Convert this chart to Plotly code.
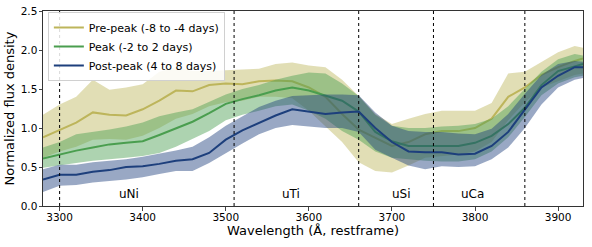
import plotly.graph_objects as go

wavelength = [3280, 3300, 3320, 3340, 3360, 3380, 3400, 3420, 3440, 3460, 3480, 3500,
              3520, 3540, 3560, 3580, 3600, 3620, 3640, 3660, 3680, 3700, 3720, 3740,
              3760, 3780, 3800, 3820, 3840, 3860, 3880, 3900, 3920, 3930]

pre_mean = [0.88, 0.97, 1.07, 1.20, 1.17, 1.16, 1.24, 1.35, 1.48, 1.47, 1.55, 1.57,
            1.56, 1.60, 1.61, 1.60, 1.52, 1.40, 1.18, 0.98, 0.87, 0.77, 0.82, 0.92,
            0.96, 0.96, 1.00, 1.12, 1.40, 1.52, 1.68, 1.78, 1.86, 1.89]
pre_upper = [1.17, 1.30, 1.40, 1.62, 1.49, 1.52, 1.56, 1.72, 1.78, 1.73, 1.73, 1.74,
             1.75, 1.76, 1.82, 1.84, 1.80, 1.78, 1.62, 1.41, 1.18, 1.05, 1.12, 1.18,
             1.22, 1.22, 1.22, 1.32, 1.70, 1.72, 1.85, 1.97, 2.05, 2.03]
pre_lower = [0.62, 0.70, 0.76, 0.85, 0.86, 0.85, 0.90, 1.00, 1.12, 1.18, 1.28, 1.33,
             1.35, 1.40, 1.40, 1.38, 1.22, 1.02, 0.82, 0.56, 0.45, 0.43, 0.52, 0.62,
             0.64, 0.66, 0.70, 0.82, 1.10, 1.33, 1.52, 1.60, 1.68, 1.70]

peak_mean = [0.61, 0.66, 0.71, 0.75, 0.79, 0.81, 0.83, 0.91, 1.00, 1.08, 1.19, 1.31,
             1.37, 1.42, 1.48, 1.52, 1.48, 1.42, 1.35, 1.21, 0.95, 0.83, 0.77, 0.77,
             0.77, 0.77, 0.81, 0.90, 1.05, 1.26, 1.55, 1.73, 1.79, 1.82]
peak_upper = [0.75, 0.82, 0.92, 0.95, 0.98, 1.02, 1.07, 1.15, 1.20, 1.24, 1.33, 1.43,
              1.50, 1.55, 1.62, 1.67, 1.71, 1.70, 1.57, 1.41, 1.17, 1.03, 1.00, 1.00,
              1.02, 1.03, 1.05, 1.12, 1.28, 1.50, 1.72, 1.88, 1.95, 1.93]
peak_lower = [0.49, 0.52, 0.55, 0.58, 0.60, 0.62, 0.64, 0.68, 0.76, 0.86, 0.96, 1.10,
              1.17, 1.22, 1.28, 1.30, 1.22, 1.12, 0.96, 0.85, 0.70, 0.62, 0.60, 0.58,
              0.57, 0.57, 0.60, 0.70, 0.88, 1.14, 1.42, 1.57, 1.65, 1.67]

post_mean = [0.34, 0.40, 0.40, 0.44, 0.46, 0.50, 0.51, 0.54, 0.58, 0.60, 0.68, 0.85,
             0.97, 1.07, 1.16, 1.24, 1.21, 1.18, 1.20, 1.21, 1.00, 0.82, 0.70, 0.69,
             0.69, 0.66, 0.67, 0.77, 0.95, 1.23, 1.52, 1.67, 1.78, 1.78]
post_upper = [0.47, 0.53, 0.53, 0.56, 0.58, 0.60, 0.63, 0.67, 0.71, 0.76, 0.88, 1.03,
              1.15, 1.27, 1.35, 1.41, 1.42, 1.43, 1.43, 1.42, 1.20, 1.03, 0.96, 0.95,
              0.95, 0.93, 0.92, 0.99, 1.18, 1.44, 1.68, 1.82, 1.86, 1.85]
post_lower = [0.18, 0.26, 0.27, 0.30, 0.32, 0.34, 0.37, 0.41, 0.45, 0.45, 0.55, 0.68,
              0.80, 0.92, 1.00, 1.04, 1.02, 1.00, 1.00, 0.95, 0.72, 0.62, 0.52, 0.47,
              0.51, 0.50, 0.51, 0.60, 0.75, 1.00, 1.30, 1.52, 1.62, 1.64]

series_names = ["Pre-peak (-8 to -4 days)", "Peak (-2 to 2 days)", "Post-peak (4 to 8 days)"]
line_colors = ["#bdb55b", "#4a9e4f", "#1d3f7c"]
fill_colors = ["rgba(189,181,91,0.45)", "rgba(74,158,79,0.45)", "rgba(29,63,124,0.45)"]

region_lines = [3300, 3510, 3660, 3750, 3860]
region_labels = ["uNi", "uTi", "uSi", "uCa"]
region_label_x = [3383, 3578, 3712, 3797]
region_label_y = 0.155

x_ticks = [3300, 3400, 3500, 3600, 3700, 3800, 3900]
y_ticks = [0.0, 0.5, 1.0, 1.5, 2.0, 2.5]

fig = go.Figure()
data = [(pre_mean, pre_upper, pre_lower), (peak_mean, peak_upper, peak_lower),
        (post_mean, post_upper, post_lower)]
for i, ((m, up, lo), name, lc, fc) in enumerate(zip(data, series_names, line_colors, fill_colors)):
    fig.add_trace(go.Scatter(x=wavelength + wavelength[::-1], y=up + lo[::-1],
                             fill="toself", fillcolor=fc, line=dict(width=0),
                             mode="lines", showlegend=False, hoverinfo="skip"))
    fig.add_trace(go.Scatter(x=wavelength, y=m, mode="lines", name=name,
                             legendgroup=f"g{i}",
                             line=dict(color=lc, width=2)))

for xv in region_lines:
    fig.add_shape(type="line", x0=xv, x1=xv, y0=0, y1=1, xref="x", yref="paper",
                  line=dict(color="black", width=1, dash="dot"))
for lab, xv in zip(region_labels, region_label_x):
    fig.add_annotation(x=xv, y=region_label_y, text=lab, showarrow=False,
                       font=dict(size=12, color="black"))

fig.update_layout(
    width=592, height=247,
    margin=dict(l=43, r=9, t=11, b=41),
    paper_bgcolor="white", plot_bgcolor="white",
    font=dict(family="DejaVu Sans", size=11, color="black"),
    legend=dict(x=0.009, y=0.995, xanchor="left", yanchor="top",
                bgcolor="rgba(255,255,255,0.85)", bordercolor="#d0d0d0", borderwidth=1,
                font=dict(size=11), tracegroupgap=0, itemwidth=30),
)
fig.update_xaxes(range=[3280, 3930], tickvals=x_ticks, ticks="outside", ticklen=3.5,
                 tickfont=dict(size=10.5), automargin=False, ticklabelstandoff=-2,
                 ticklabeloverflow="allow",
                 showline=True, linecolor="#333333", linewidth=1, mirror=True,
                 showgrid=False, zeroline=False,
                 title=dict(text="Wavelength (Å, restframe)", standoff=3, font=dict(size=13)))
fig.update_yaxes(range=[0, 2.5], tickvals=y_ticks, tickformat=".1f", ticks="outside",
                 tickfont=dict(size=10.5), automargin=False, ticklabelstandoff=-1,
                 ticklabeloverflow="allow",
                 ticklen=3.5, showline=True, linecolor="#333333", linewidth=1, mirror=True,
                 showgrid=False, zeroline=False,
                 title=dict(text="Normalized flux density", standoff=3, font=dict(size=13)))

# remove the browser's default 8px body margin so the figure sits at (0, 0)
fig.write_html("out.html", config={"displayModeBar": False},
               post_script="document.body.style.margin='0px';")
